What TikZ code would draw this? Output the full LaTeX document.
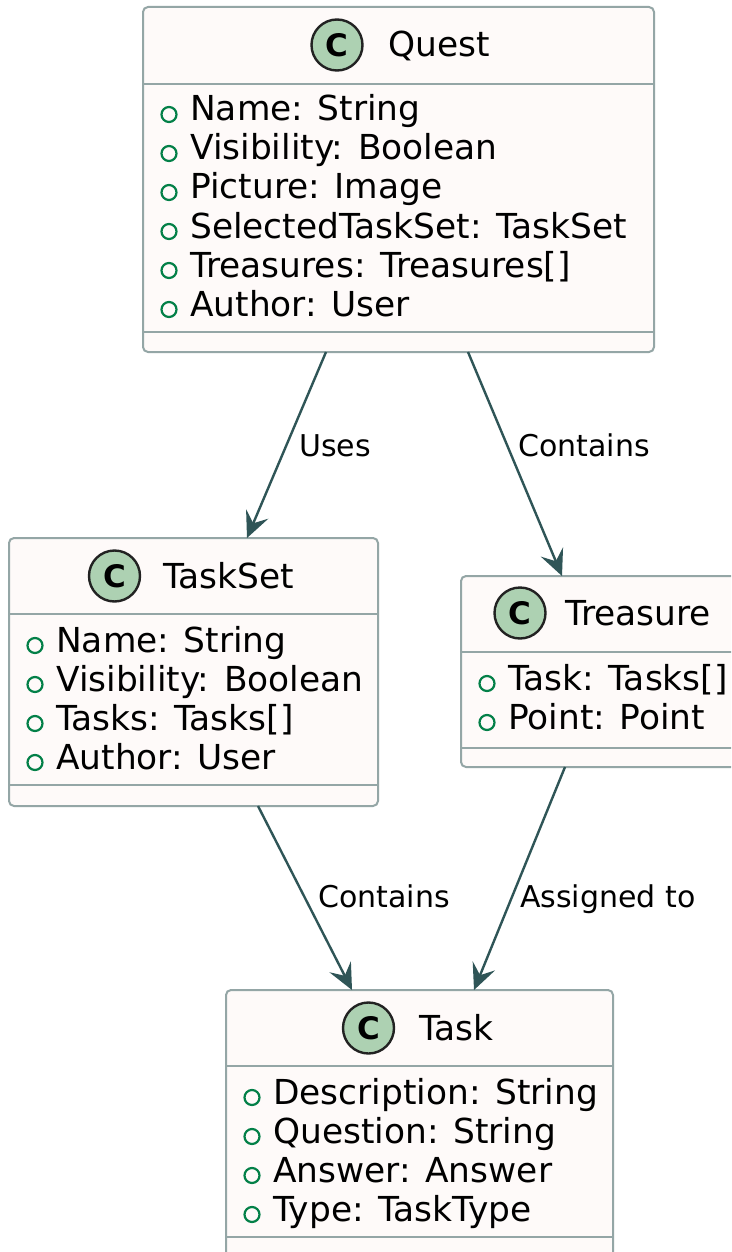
\documentclass[tikz,border=0pt]{standalone}
\usepackage{fontspec}
\setmainfont{DejaVu Sans}
\usetikzlibrary{arrows.meta,calc}

\definecolor{boxfill}{HTML}{FEFAF9}
\definecolor{boxline}{HTML}{94A6A6}
\definecolor{arrowline}{HTML}{2F5557}
\definecolor{iconfill}{HTML}{ADD1B2}
\definecolor{iconline}{HTML}{222222}
\definecolor{pubgreen}{HTML}{038048}

\tikzset{
  classbox/.style={rectangle, draw=boxline, fill=boxfill, line width=2pt,
    rounded corners=5pt, anchor=north west, inner sep=0pt, outer sep=0pt},
  divider/.style={draw=boxline, line width=2pt},
  classicon/.style={circle, draw=iconline, fill=iconfill, line width=2.4pt,
    minimum size=51pt, inner sep=0pt, font=\fontsize{31}{31}\selectfont\bfseries},
  classtitle/.style={anchor=base west, inner sep=0pt, font=\fontsize{34.4}{39}\selectfont},
  attrtext/.style={anchor=base west, inner sep=0pt, font=\fontsize{34.4}{39}\selectfont},
  pubmark/.style={circle, draw=pubgreen, line width=2.2pt, minimum size=15pt, inner sep=0pt},
  relation/.style={draw=arrowline, line width=2.4pt,
    -{Stealth[length=26pt,width=24pt,inset=10pt]}},
  rellabel/.style={anchor=base west, inner sep=0pt, font=\fontsize{30}{36}\selectfont},
}

\begin{document}
\begin{tikzpicture}[x=1pt, y=-1pt]
  \useasboundingbox (0,0) rectangle (731,1252);
  \fill[white] (0,0) rectangle (731,1252);
  \clip (0,0) rectangle (731,1252);

  % ---------- Quest ----------
  \node[classbox, minimum width=511pt, minimum height=345pt] (quest) at (143,7) {};
  \draw[divider] (quest.west |- 0,84) -- (quest.east |- 0,84);
  \draw[divider] (quest.west |- 0,332) -- (quest.east |- 0,332);
  \node[classicon] (questicon) at (337,45) {C};
  \node[classtitle] (questtitle) at (388,57) {Quest};
  \foreach \t [count=\i from 0] in {Name: String, Visibility: Boolean, Picture: Image,
      SelectedTaskSet: TaskSet, Treasures: Treasures[], Author: User} {
    \node[pubmark] (questmark\i) at (169,{114.5+39*\i}) {};
    \node[attrtext] (questattr\i) at (190,{121+39*\i}) {\t};
  }

  % ---------- TaskSet ----------
  \node[classbox, minimum width=369pt, minimum height=268pt] (taskset) at (9,538) {};
  \draw[divider] (taskset.west |- 0,614) -- (taskset.east |- 0,614);
  \draw[divider] (taskset.west |- 0,785) -- (taskset.east |- 0,785);
  \node[classicon] (taskseticon) at (114.5,576) {C};
  \node[classtitle] (tasksettitle) at (163,588) {TaskSet};
  \foreach \t [count=\i from 0] in {Name: String, Visibility: Boolean, Tasks: Tasks[],
      Author: User} {
    \node[pubmark] (tasksetmark\i) at (35,{645.5+39*\i}) {};
    \node[attrtext] (tasksetattr\i) at (56,{652+39*\i}) {\t};
  }

  % ---------- Treasure ----------
  \node[classbox, minimum width=290pt, minimum height=191pt] (treasure) at (461,576) {};
  \draw[divider] (treasure.west |- 0,652) -- (treasure.east |- 0,652);
  \draw[divider] (treasure.west |- 0,748) -- (treasure.east |- 0,748);
  \node[classicon] (treasureicon) at (520,613) {C};
  \node[classtitle] (treasuretitle) at (565,625) {Treasure};
  \foreach \t [count=\i from 0] in {Task: Tasks[], Point: Point} {
    \node[pubmark] (treasuremark\i) at (487,{683.5+39*\i}) {};
    \node[attrtext] (treasureattr\i) at (508,{690+39*\i}) {\t};
  }

  % ---------- Task ----------
  \node[classbox, minimum width=387pt, minimum height=270pt] (task) at (226,990) {};
  \draw[divider] (task.west |- 0,1066) -- (task.east |- 0,1066);
  \draw[divider] (task.west |- 0,1237) -- (task.east |- 0,1237);
  \node[classicon] (taskicon) at (368.5,1028) {C};
  \node[classtitle] (tasktitle) at (419,1040) {Task};
  \foreach \t [count=\i from 0] in {Description: String, Question: String,
      Answer: Answer, Type: TaskType} {
    \node[pubmark] (taskmark\i) at (252,{1097.5+39*\i}) {};
    \node[attrtext] (taskattr\i) at (273,{1104+39*\i}) {\t};
  }

  % ---------- Relations ----------
  \draw[relation] (quest.south -| 326,0) -- (taskset.north -| 247,0);
  \draw[relation] (quest.south -| 468,0) -- (treasure.north -| 562,0);
  \draw[relation] (taskset.south -| 258,0) -- (task.north -| 352,0);
  \draw[relation] (treasure.south -| 565,0) -- (task.north -| 474,0);

  \node[rellabel] (lbluses) at (299,456) {Uses};
  \node[rellabel] (lblcontains) at (518,456) {Contains};
  \node[rellabel] (lbltaskscontain) at (318,907) {Contains};
  \node[rellabel] (lblassigned) at (520,907) {Assigned to};
\end{tikzpicture}
\end{document}
